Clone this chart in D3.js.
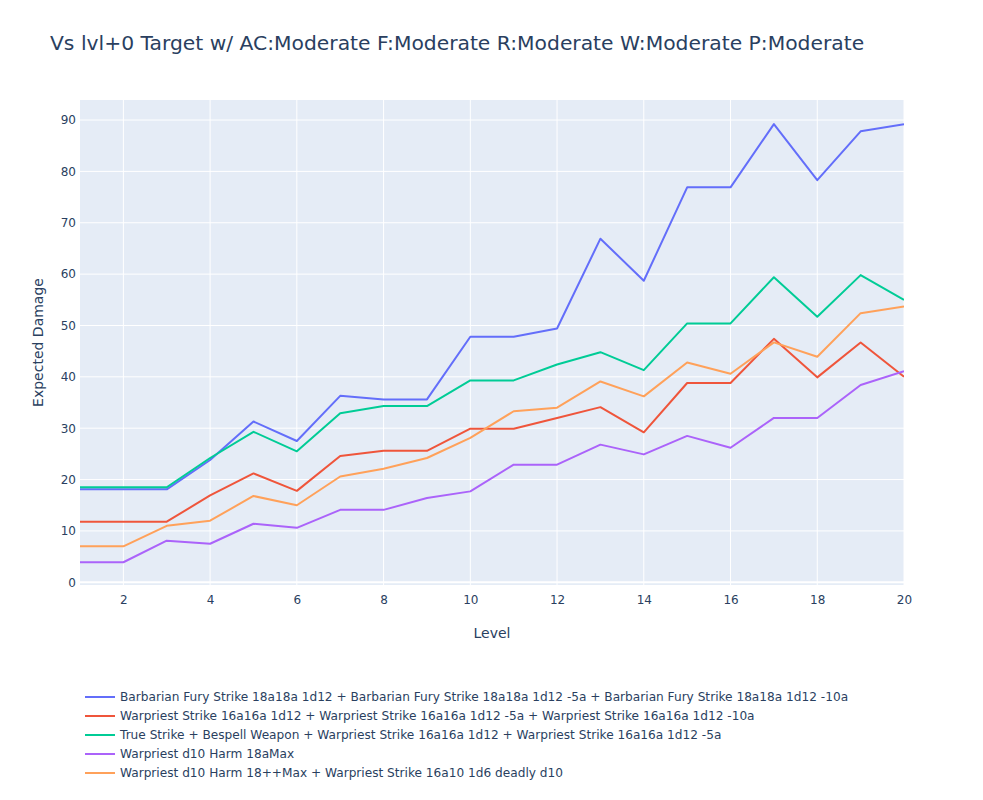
<!DOCTYPE html>
<html>
<head>
<meta charset="utf-8">
<script src="https://cdn.jsdelivr.net/npm/d3@7"></script>
<style>
  body { margin: 0; background: #fff; }
  svg { font-family: "DejaVu Sans", verdana, arial, sans-serif; }
</style>
</head>
<body>
<svg id="chart" width="983" height="800"></svg>
<script>
// levels 1..20
const levels = d3.range(1, 21);

const seriesNames = [
  "Barbarian Fury Strike 18a18a 1d12 + Barbarian Fury Strike 18a18a 1d12 -5a + Barbarian Fury Strike 18a18a 1d12 -10a",
  "Warpriest Strike 16a16a 1d12 + Warpriest Strike 16a16a 1d12 -5a + Warpriest Strike 16a16a 1d12 -10a",
  "True Strike + Bespell Weapon + Warpriest Strike 16a16a 1d12 + Warpriest Strike 16a16a 1d12 -5a",
  "Warpriest d10 Harm 18aMax",
  "Warpriest d10 Harm 18++Max + Warpriest Strike 16a10 1d6 deadly d10"
];

const barbarian = [18.1, 18.1, 18.1, 23.8, 31.3, 27.5, 36.3, 35.6, 35.6, 47.8,
                   47.8, 49.4, 66.9, 58.7, 76.9, 76.9, 89.2, 78.3, 87.8, 89.2];
const warpriest = [11.8, 11.8, 11.8, 16.9, 21.2, 17.8, 24.6, 25.6, 25.6, 29.9,
                   29.9, 32.0, 34.1, 29.2, 38.8, 38.8, 47.4, 39.9, 46.7, 40.0];
const trueStrike = [18.5, 18.5, 18.5, 24.2, 29.3, 25.5, 32.9, 34.3, 34.3, 39.3,
                    39.3, 42.4, 44.8, 41.3, 50.4, 50.4, 59.4, 51.7, 59.8, 55.0];
const harmMax = [3.9, 3.9, 8.1, 7.5, 11.4, 10.6, 14.1, 14.1, 16.4, 17.7,
                 22.9, 22.9, 26.8, 24.9, 28.5, 26.2, 32.0, 32.0, 38.4, 41.1];
const harmStrike = [7.0, 7.0, 11.0, 12.0, 16.8, 15.0, 20.6, 22.1, 24.2, 28.1,
                    33.3, 34.0, 39.1, 36.2, 42.8, 40.6, 46.7, 43.9, 52.4, 53.7];

const seriesValues = [barbarian, warpriest, trueStrike, harmMax, harmStrike];
const colors = ["#636efa", "#EF553B", "#00cc96", "#ab63fa", "#FFA15A"];

const xTicks = [2, 4, 6, 8, 10, 12, 14, 16, 18, 20];
const yTicks = [0, 10, 20, 30, 40, 50, 60, 70, 80, 90];

const margin = { left: 80, top: 100, right: 79, bottom: 215 };
const width = 983, height = 800;
const innerW = width - margin.left - margin.right;
const innerH = height - margin.top - margin.bottom;
const fontStack = "\"DejaVu Sans\", verdana, arial, sans-serif";

const svg = d3.select("#chart");

const x = d3.scaleLinear().domain([1, 20]).range([margin.left, margin.left + innerW]);
const y = d3.scaleLinear().domain([-0.53, 93.9]).range([margin.top + innerH, margin.top]);

// plot background
svg.append("rect")
    .attr("x", margin.left)
    .attr("y", margin.top)
    .attr("width", innerW)
    .attr("height", innerH)
    .attr("fill", "#E5ECF6");

// grid
const grid = svg.append("g");
grid.selectAll(".xg")
    .data(xTicks)
    .join("line")
    .attr("x1", d => x(d)).attr("x2", d => x(d))
    .attr("y1", margin.top).attr("y2", margin.top + innerH)
    .attr("stroke", "#fff").attr("stroke-width", 1);
grid.selectAll(".yg")
    .data(yTicks)
    .join("line")
    .attr("x1", margin.left).attr("x2", margin.left + innerW)
    .attr("y1", d => y(d)).attr("y2", d => y(d))
    .attr("stroke", "#fff")
    .attr("stroke-width", d => d === 0 ? 2 : 1);

// axes (tick labels only, plotly style)
const xAxis = svg.append("g")
    .attr("transform", `translate(0,${margin.top + innerH})`)
    .call(d3.axisBottom(x).tickValues(xTicks).tickSize(0).tickPadding(8));
const yAxis = svg.append("g")
    .attr("transform", `translate(${margin.left},0)`)
    .call(d3.axisLeft(y).tickValues(yTicks).tickSize(0).tickPadding(4));
[xAxis, yAxis].forEach(g => {
  g.select(".domain").remove();
  g.selectAll("text")
      .attr("fill", "#2a3f5f")
      .style("font-size", "12px")
      .style("font-family", fontStack);
});
xAxis.selectAll("text").attr("dy", "0.95em");

// lines
const line = d3.line()
    .x((d, i) => x(levels[i]))
    .y(d => y(d));

svg.append("clipPath").attr("id", "clip")
    .append("rect")
    .attr("x", margin.left).attr("y", margin.top)
    .attr("width", innerW).attr("height", innerH);

svg.append("g")
    .attr("clip-path", "url(#clip)")
    .selectAll("path")
    .data(seriesValues)
    .join("path")
    .attr("d", d => line(d))
    .attr("fill", "none")
    .attr("stroke", (d, i) => colors[i])
    .attr("stroke-width", 2)
    .attr("stroke-linejoin", "round");

// title
svg.append("text")
    .attr("x", 50)
    .attr("y", 50)
    .attr("fill", "#2a3f5f")
    .style("font-size", "20.3px")
    .text("Vs lvl+0 Target w/ AC:Moderate F:Moderate R:Moderate W:Moderate P:Moderate");

// axis titles
svg.append("text")
    .attr("x", margin.left + innerW / 2)
    .attr("y", 638)
    .attr("text-anchor", "middle")
    .attr("fill", "#2a3f5f")
    .style("font-size", "14px")
    .text("Level");

svg.append("text")
    .attr("transform", `translate(38,${margin.top + innerH / 2}) rotate(-90)`)
    .attr("text-anchor", "middle")
    .attr("dy", "0.35em")
    .attr("fill", "#2a3f5f")
    .style("font-size", "14px")
    .text("Expected Damage");

// legend
const legend = svg.append("g").attr("transform", "translate(85,697)");
const items = legend.selectAll("g")
    .data(seriesNames)
    .join("g")
    .attr("transform", (d, i) => `translate(0,${i * 19})`);
items.append("line")
    .attr("x1", 0).attr("x2", 30)
    .attr("y1", 0).attr("y2", 0)
    .attr("stroke", (d, i) => colors[i])
    .attr("stroke-width", 2);
items.append("text")
    .attr("x", 35)
    .attr("y", 0)
    .attr("dy", "0.35em")
    .attr("fill", "#2a3f5f")
    .style("font-size", "12.15px")
    .text(d => d);
</script>
</body>
</html>
